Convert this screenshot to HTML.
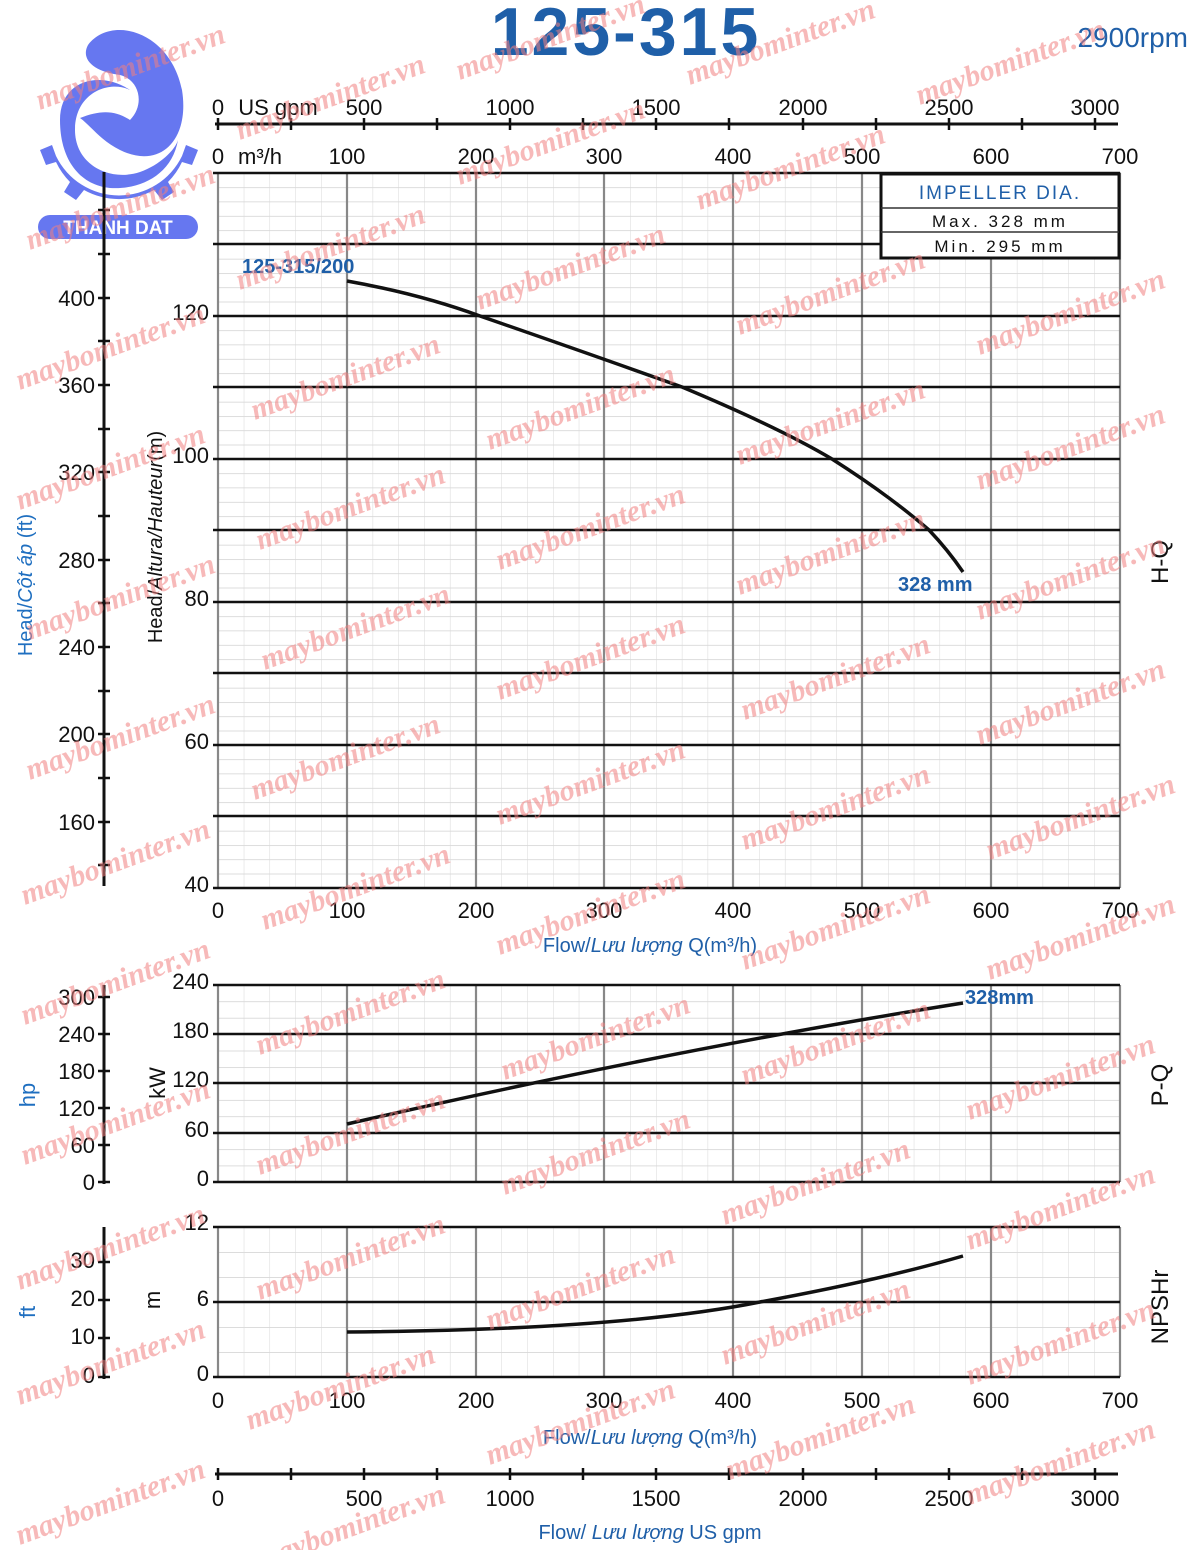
<!DOCTYPE html>
<html><head><meta charset="utf-8">
<style>
html,body{margin:0;padding:0;background:#fff;}
svg{display:block;font-family:"Liberation Sans","DejaVu Sans",sans-serif;}
</style></head>
<body>
<svg width="1200" height="1550" viewBox="0 0 1200 1550" xmlns="http://www.w3.org/2000/svg">
<defs>
<pattern id="pm" x="218" y="173" width="25.77" height="14.3" patternUnits="userSpaceOnUse">
<line x1="0" y1="0" x2="25.77" y2="0" stroke="#c8c8c8" stroke-width="1.2"/>
<line x1="0" y1="0" x2="0" y2="14.3" stroke="#d8d8d8" stroke-width="1"/>
</pattern>
<pattern id="pp" x="218" y="985" width="25.77" height="16.42" patternUnits="userSpaceOnUse">
<line x1="0" y1="0" x2="25.77" y2="0" stroke="#c8c8c8" stroke-width="1.2"/>
<line x1="0" y1="0" x2="0" y2="16.42" stroke="#d8d8d8" stroke-width="1"/>
</pattern>
<pattern id="pn" x="218" y="1227" width="25.77" height="25" patternUnits="userSpaceOnUse">
<line x1="0" y1="0" x2="25.77" y2="0" stroke="#c8c8c8" stroke-width="1.2"/>
<line x1="0" y1="0" x2="0" y2="25" stroke="#d8d8d8" stroke-width="1"/>
</pattern>
</defs>

<!-- Title -->
<text x="626" y="55" font-size="68" font-weight="bold" fill="#1f5fa8" text-anchor="middle" letter-spacing="3">125-315</text>
<text x="1188" y="47" font-size="28" fill="#1f5fa8" text-anchor="end">2900rpm</text>

<!-- Logo -->
<g fill="#6677f0">
<path d="M88,45 C110,15 170,30 182,90 C190,140 160,170 120,150 C100,140 90,125 80,118 C100,110 115,110 130,120 C145,105 140,80 120,75 C95,72 80,60 88,45 Z"/>
<path d="M60,120 C60,80 100,70 130,90 C110,80 75,92 75,130 C75,165 110,182 140,172 C160,165 175,150 178,140 C172,175 140,190 110,188 C80,185 60,160 60,120 Z"/>
<path d="M40,150 L52,145 L56,156 A70,70 0 0 0 182,156 L186,145 L198,150 L192,165 L182,162 A72,72 0 0 1 168,182 L174,192 L162,200 L154,190 A72,72 0 0 1 84,190 L76,200 L64,192 L70,182 A72,72 0 0 1 56,162 L46,165 Z"/>
<rect x="38" y="215" width="160" height="24" rx="12"/>
</g>
<text x="118" y="234" font-size="19" font-weight="bold" fill="#fff" text-anchor="middle">THANH DAT</text>

<!-- top gpm axis -->
<line x1="215" y1="124" x2="1118" y2="124" stroke="#111" stroke-width="3"/>
<g stroke="#111" stroke-width="2.5">
<line x1="218" y1="118" x2="218" y2="130"/><line x1="291" y1="118" x2="291" y2="130"/><line x1="364" y1="118" x2="364" y2="130"/><line x1="437" y1="118" x2="437" y2="130"/><line x1="510" y1="118" x2="510" y2="130"/><line x1="583" y1="118" x2="583" y2="130"/><line x1="656" y1="118" x2="656" y2="130"/><line x1="729" y1="118" x2="729" y2="130"/><line x1="803" y1="118" x2="803" y2="130"/><line x1="876" y1="118" x2="876" y2="130"/><line x1="949" y1="118" x2="949" y2="130"/><line x1="1022" y1="118" x2="1022" y2="130"/><line x1="1095" y1="118" x2="1095" y2="130"/>
</g>
<g font-size="22" fill="#111" text-anchor="middle">
<text x="218" y="115">0</text><text x="278" y="115">US gpm</text><text x="364" y="115">500</text><text x="510" y="115">1000</text><text x="656" y="115">1500</text><text x="803" y="115">2000</text><text x="949" y="115">2500</text><text x="1095" y="115">3000</text>
<text x="218" y="164">0</text><text x="260" y="164">m³/h</text><text x="347" y="164">100</text><text x="476" y="164">200</text><text x="604" y="164">300</text><text x="733" y="164">400</text><text x="862" y="164">500</text><text x="991" y="164">600</text><text x="1120" y="164">700</text>
</g>

<!-- main chart -->
<rect x="218" y="173" width="902" height="715" fill="url(#pm)"/>
<g stroke="#888" stroke-width="2.2">
<line x1="218" y1="173" x2="218" y2="888"/><line x1="347" y1="173" x2="347" y2="888"/><line x1="476" y1="173" x2="476" y2="888"/><line x1="604" y1="173" x2="604" y2="888"/><line x1="733" y1="173" x2="733" y2="888"/><line x1="862" y1="173" x2="862" y2="888"/><line x1="991" y1="173" x2="991" y2="888"/><line x1="1120" y1="173" x2="1120" y2="888"/>
</g>
<g stroke="#111" stroke-width="2.6">
<line x1="213" y1="173" x2="1120" y2="173"/><line x1="213" y1="244" x2="1120" y2="244"/><line x1="213" y1="316" x2="1120" y2="316"/><line x1="213" y1="387" x2="1120" y2="387"/><line x1="213" y1="459" x2="1120" y2="459"/><line x1="213" y1="530" x2="1120" y2="530"/><line x1="213" y1="602" x2="1120" y2="602"/><line x1="213" y1="673" x2="1120" y2="673"/><line x1="213" y1="745" x2="1120" y2="745"/><line x1="213" y1="816" x2="1120" y2="816"/><line x1="213" y1="888" x2="1120" y2="888"/>
</g>
<g font-size="22" fill="#111" text-anchor="end">
<text x="209" y="320">120</text><text x="209" y="463">100</text><text x="209" y="606">80</text><text x="209" y="749">60</text><text x="209" y="892">40</text>
</g>
<!-- impeller box -->
<rect x="881" y="174" width="238" height="84" fill="#fff" stroke="#111" stroke-width="3"/>
<line x1="881" y1="208" x2="1119" y2="208" stroke="#333" stroke-width="1.5"/>
<line x1="881" y1="232" x2="1119" y2="232" stroke="#333" stroke-width="1.5"/>
<text x="1000" y="199" font-size="19" fill="#1f5fa8" text-anchor="middle" letter-spacing="2">IMPELLER DIA.</text>
<text x="1000" y="227" font-size="17" fill="#111" text-anchor="middle" letter-spacing="3">Max.  328 mm</text>
<text x="1000" y="252" font-size="17" fill="#111" text-anchor="middle" letter-spacing="3">Min.   295 mm</text>
<!-- HQ curve -->
<path d="M347,281 Q420,294 480,316 Q590,354 682,387 Q780,428 832,459 Q890,496 929,530 Q948,550 963,572" fill="none" stroke="#111" stroke-width="3.5"/>
<text x="242" y="273" font-size="20" font-weight="bold" fill="#1f5fa8">125-315/200</text>
<text x="898" y="591" font-size="20" font-weight="bold" fill="#1f5fa8">328 mm</text>
<text x="1168" y="562" font-size="24" fill="#111" text-anchor="middle" transform="rotate(-90 1168 562)">H-Q</text>

<!-- left ft axis -->
<line x1="104" y1="172" x2="104" y2="886" stroke="#111" stroke-width="3"/>
<g stroke="#111" stroke-width="2.5">
<line x1="98" y1="210" x2="110" y2="210"/><line x1="98" y1="254" x2="110" y2="254"/><line x1="98" y1="298" x2="110" y2="298"/><line x1="98" y1="341" x2="110" y2="341"/><line x1="98" y1="385" x2="110" y2="385"/><line x1="98" y1="429" x2="110" y2="429"/><line x1="98" y1="472" x2="110" y2="472"/><line x1="98" y1="516" x2="110" y2="516"/><line x1="98" y1="560" x2="110" y2="560"/><line x1="98" y1="603" x2="110" y2="603"/><line x1="98" y1="647" x2="110" y2="647"/><line x1="98" y1="691" x2="110" y2="691"/><line x1="98" y1="734" x2="110" y2="734"/><line x1="98" y1="778" x2="110" y2="778"/><line x1="98" y1="822" x2="110" y2="822"/><line x1="98" y1="865" x2="110" y2="865"/>
</g>
<g font-size="22" fill="#111" text-anchor="end">
<text x="95" y="306">400</text><text x="95" y="393">360</text><text x="95" y="480">320</text><text x="95" y="568">280</text><text x="95" y="655">240</text><text x="95" y="742">200</text><text x="95" y="830">160</text>
</g>
<text x="32" y="585" font-size="20" fill="#1f6fc0" text-anchor="middle" transform="rotate(-90 32 585)">Head/<tspan font-style="italic">Cột áp</tspan> (ft)</text>
<text x="162" y="537" font-size="20" fill="#111" text-anchor="middle" transform="rotate(-90 162 537)">Head/<tspan font-style="italic">Altura/Hauteur</tspan>(m)</text>

<!-- x labels main -->
<g font-size="22" fill="#111" text-anchor="middle">
<text x="218" y="918">0</text><text x="347" y="918">100</text><text x="476" y="918">200</text><text x="604" y="918">300</text><text x="733" y="918">400</text><text x="862" y="918">500</text><text x="991" y="918">600</text><text x="1120" y="918">700</text>
</g>
<text x="650" y="952" font-size="20" fill="#1f5fa8" text-anchor="middle">Flow/<tspan font-style="italic">Lưu lượng</tspan> Q(m³/h)</text>

<!-- power chart -->
<rect x="218" y="985" width="902" height="197" fill="url(#pp)"/>
<g stroke="#888" stroke-width="2.2">
<line x1="218" y1="985" x2="218" y2="1182"/><line x1="347" y1="985" x2="347" y2="1182"/><line x1="476" y1="985" x2="476" y2="1182"/><line x1="604" y1="985" x2="604" y2="1182"/><line x1="733" y1="985" x2="733" y2="1182"/><line x1="862" y1="985" x2="862" y2="1182"/><line x1="991" y1="985" x2="991" y2="1182"/><line x1="1120" y1="985" x2="1120" y2="1182"/>
</g>
<g stroke="#111" stroke-width="2.6">
<line x1="213" y1="985" x2="1120" y2="985"/><line x1="213" y1="1034" x2="1120" y2="1034"/><line x1="213" y1="1083" x2="1120" y2="1083"/><line x1="213" y1="1133" x2="1120" y2="1133"/><line x1="213" y1="1182" x2="1120" y2="1182"/>
</g>
<path d="M347,1124 Q680,1048 963,1003" fill="none" stroke="#111" stroke-width="3.5"/>
<text x="965" y="1004" font-size="20" font-weight="bold" fill="#1f5fa8">328mm</text>
<g font-size="22" fill="#111" text-anchor="end">
<text x="209" y="989">240</text><text x="209" y="1038">180</text><text x="209" y="1087">120</text><text x="209" y="1137">60</text><text x="209" y="1186">0</text>
</g>
<text x="1168" y="1085" font-size="24" fill="#111" text-anchor="middle" transform="rotate(-90 1168 1085)">P-Q</text>
<line x1="104" y1="985" x2="104" y2="1184" stroke="#111" stroke-width="3"/>
<g stroke="#111" stroke-width="2.5">
<line x1="98" y1="997" x2="110" y2="997"/><line x1="98" y1="1034" x2="110" y2="1034"/><line x1="98" y1="1071" x2="110" y2="1071"/><line x1="98" y1="1108" x2="110" y2="1108"/><line x1="98" y1="1145" x2="110" y2="1145"/><line x1="98" y1="1182" x2="110" y2="1182"/>
</g>
<g font-size="22" fill="#111" text-anchor="end">
<text x="95" y="1005">300</text><text x="95" y="1042">240</text><text x="95" y="1079">180</text><text x="95" y="1116">120</text><text x="95" y="1153">60</text><text x="95" y="1190">0</text>
</g>
<text x="35" y="1095" font-size="22" fill="#1f6fc0" text-anchor="middle" transform="rotate(-90 35 1095)">hp</text>
<text x="165" y="1083" font-size="22" fill="#111" text-anchor="middle" transform="rotate(-90 165 1083)">kW</text>

<!-- NPSH chart -->
<rect x="218" y="1227" width="902" height="150" fill="url(#pn)"/>
<g stroke="#888" stroke-width="2.2">
<line x1="218" y1="1227" x2="218" y2="1377"/><line x1="347" y1="1227" x2="347" y2="1377"/><line x1="476" y1="1227" x2="476" y2="1377"/><line x1="604" y1="1227" x2="604" y2="1377"/><line x1="733" y1="1227" x2="733" y2="1377"/><line x1="862" y1="1227" x2="862" y2="1377"/><line x1="991" y1="1227" x2="991" y2="1377"/><line x1="1120" y1="1227" x2="1120" y2="1377"/>
</g>
<g stroke="#111" stroke-width="2.6">
<line x1="213" y1="1227" x2="1120" y2="1227"/><line x1="213" y1="1302" x2="1120" y2="1302"/><line x1="213" y1="1377" x2="1120" y2="1377"/>
</g>
<path d="M347,1332 Q620,1330 760,1302 Q880,1280 963,1256" fill="none" stroke="#111" stroke-width="3.5"/>
<g font-size="22" fill="#111" text-anchor="end">
<text x="209" y="1230">12</text><text x="209" y="1306">6</text><text x="209" y="1381">0</text>
</g>
<text x="1168" y="1307" font-size="24" fill="#111" text-anchor="middle" transform="rotate(-90 1168 1307)">NPSHr</text>
<line x1="104" y1="1227" x2="104" y2="1379" stroke="#111" stroke-width="3"/>
<g stroke="#111" stroke-width="2.5">
<line x1="98" y1="1262" x2="110" y2="1262"/><line x1="98" y1="1300" x2="110" y2="1300"/><line x1="98" y1="1338" x2="110" y2="1338"/><line x1="98" y1="1377" x2="110" y2="1377"/>
</g>
<g font-size="22" fill="#111" text-anchor="end">
<text x="95" y="1268">30</text><text x="95" y="1306">20</text><text x="95" y="1344">10</text><text x="95" y="1383">0</text>
</g>
<text x="35" y="1312" font-size="22" fill="#1f6fc0" text-anchor="middle" transform="rotate(-90 35 1312)">ft</text>
<text x="160" y="1300" font-size="22" fill="#111" text-anchor="middle" transform="rotate(-90 160 1300)">m</text>

<g font-size="22" fill="#111" text-anchor="middle">
<text x="218" y="1408">0</text><text x="347" y="1408">100</text><text x="476" y="1408">200</text><text x="604" y="1408">300</text><text x="733" y="1408">400</text><text x="862" y="1408">500</text><text x="991" y="1408">600</text><text x="1120" y="1408">700</text>
</g>
<text x="650" y="1444" font-size="20" fill="#1f5fa8" text-anchor="middle">Flow/<tspan font-style="italic">Lưu lượng</tspan> Q(m³/h)</text>

<!-- bottom gpm axis -->
<line x1="215" y1="1474" x2="1118" y2="1474" stroke="#111" stroke-width="3"/>
<g stroke="#111" stroke-width="2.5">
<line x1="218" y1="1468" x2="218" y2="1480"/><line x1="291" y1="1468" x2="291" y2="1480"/><line x1="364" y1="1468" x2="364" y2="1480"/><line x1="437" y1="1468" x2="437" y2="1480"/><line x1="510" y1="1468" x2="510" y2="1480"/><line x1="583" y1="1468" x2="583" y2="1480"/><line x1="656" y1="1468" x2="656" y2="1480"/><line x1="729" y1="1468" x2="729" y2="1480"/><line x1="803" y1="1468" x2="803" y2="1480"/><line x1="876" y1="1468" x2="876" y2="1480"/><line x1="949" y1="1468" x2="949" y2="1480"/><line x1="1022" y1="1468" x2="1022" y2="1480"/><line x1="1095" y1="1468" x2="1095" y2="1480"/>
</g>
<g font-size="22" fill="#111" text-anchor="middle">
<text x="218" y="1506">0</text><text x="364" y="1506">500</text><text x="510" y="1506">1000</text><text x="656" y="1506">1500</text><text x="803" y="1506">2000</text><text x="949" y="1506">2500</text><text x="1095" y="1506">3000</text>
</g>
<text x="650" y="1539" font-size="20" fill="#1f5fa8" text-anchor="middle">Flow/ <tspan font-style="italic">Lưu lượng</tspan> US gpm</text>

<!-- watermarks -->
<g font-family="'Liberation Serif',serif" font-size="30" font-weight="bold" font-style="italic" fill="#f08080" fill-opacity="0.55">
<text transform="translate(40,110) rotate(-20)">maybominter.vn</text>
<text transform="translate(460,80) rotate(-20)">maybominter.vn</text>
<text transform="translate(690,85) rotate(-20)">maybominter.vn</text>
<text transform="translate(920,105) rotate(-20)">maybominter.vn</text>
<text transform="translate(240,140) rotate(-20)">maybominter.vn</text>
<text transform="translate(460,185) rotate(-20)">maybominter.vn</text>
<text transform="translate(700,210) rotate(-20)">maybominter.vn</text>
<text transform="translate(30,250) rotate(-20)">maybominter.vn</text>
<text transform="translate(240,290) rotate(-20)">maybominter.vn</text>
<text transform="translate(480,310) rotate(-20)">maybominter.vn</text>
<text transform="translate(740,335) rotate(-20)">maybominter.vn</text>
<text transform="translate(980,355) rotate(-20)">maybominter.vn</text>
<text transform="translate(20,390) rotate(-20)">maybominter.vn</text>
<text transform="translate(255,420) rotate(-20)">maybominter.vn</text>
<text transform="translate(490,450) rotate(-20)">maybominter.vn</text>
<text transform="translate(740,465) rotate(-20)">maybominter.vn</text>
<text transform="translate(980,490) rotate(-20)">maybominter.vn</text>
<text transform="translate(20,510) rotate(-20)">maybominter.vn</text>
<text transform="translate(260,550) rotate(-20)">maybominter.vn</text>
<text transform="translate(500,570) rotate(-20)">maybominter.vn</text>
<text transform="translate(740,595) rotate(-20)">maybominter.vn</text>
<text transform="translate(980,620) rotate(-20)">maybominter.vn</text>
<text transform="translate(30,640) rotate(-20)">maybominter.vn</text>
<text transform="translate(265,670) rotate(-20)">maybominter.vn</text>
<text transform="translate(500,700) rotate(-20)">maybominter.vn</text>
<text transform="translate(745,720) rotate(-20)">maybominter.vn</text>
<text transform="translate(980,745) rotate(-20)">maybominter.vn</text>
<text transform="translate(30,780) rotate(-20)">maybominter.vn</text>
<text transform="translate(255,800) rotate(-20)">maybominter.vn</text>
<text transform="translate(500,825) rotate(-20)">maybominter.vn</text>
<text transform="translate(745,850) rotate(-20)">maybominter.vn</text>
<text transform="translate(990,860) rotate(-20)">maybominter.vn</text>
<text transform="translate(25,905) rotate(-20)">maybominter.vn</text>
<text transform="translate(265,930) rotate(-20)">maybominter.vn</text>
<text transform="translate(500,955) rotate(-20)">maybominter.vn</text>
<text transform="translate(745,970) rotate(-20)">maybominter.vn</text>
<text transform="translate(990,980) rotate(-20)">maybominter.vn</text>
<text transform="translate(25,1025) rotate(-20)">maybominter.vn</text>
<text transform="translate(260,1055) rotate(-20)">maybominter.vn</text>
<text transform="translate(505,1080) rotate(-20)">maybominter.vn</text>
<text transform="translate(745,1085) rotate(-20)">maybominter.vn</text>
<text transform="translate(970,1120) rotate(-20)">maybominter.vn</text>
<text transform="translate(25,1165) rotate(-20)">maybominter.vn</text>
<text transform="translate(260,1175) rotate(-20)">maybominter.vn</text>
<text transform="translate(505,1195) rotate(-20)">maybominter.vn</text>
<text transform="translate(725,1225) rotate(-20)">maybominter.vn</text>
<text transform="translate(970,1250) rotate(-20)">maybominter.vn</text>
<text transform="translate(20,1290) rotate(-20)">maybominter.vn</text>
<text transform="translate(260,1300) rotate(-20)">maybominter.vn</text>
<text transform="translate(490,1330) rotate(-20)">maybominter.vn</text>
<text transform="translate(725,1365) rotate(-20)">maybominter.vn</text>
<text transform="translate(970,1385) rotate(-20)">maybominter.vn</text>
<text transform="translate(20,1405) rotate(-20)">maybominter.vn</text>
<text transform="translate(250,1430) rotate(-20)">maybominter.vn</text>
<text transform="translate(490,1465) rotate(-20)">maybominter.vn</text>
<text transform="translate(730,1480) rotate(-20)">maybominter.vn</text>
<text transform="translate(970,1505) rotate(-20)">maybominter.vn</text>
<text transform="translate(20,1545) rotate(-20)">maybominter.vn</text>
<text transform="translate(260,1570) rotate(-20)">maybominter.vn</text>
</g>
</svg>
</body></html>
